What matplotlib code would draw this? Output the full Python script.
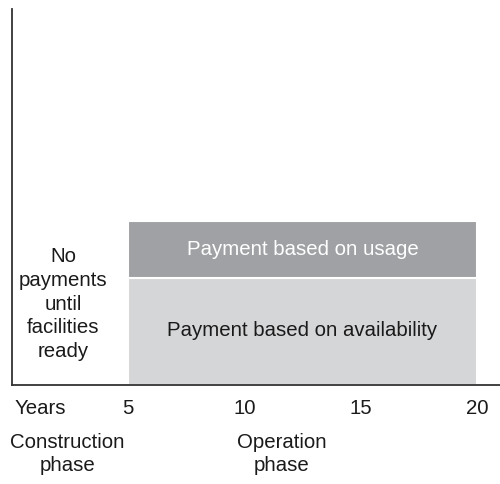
import matplotlib
matplotlib.use("Agg")
import matplotlib.pyplot as plt
from matplotlib.transforms import blended_transform_factory

plt.rcParams['font.family'] = ['Liberation Sans', 'DejaVu Sans']

# Data
start_year = 5
end_year = 20
availability = 2.85
usage = 1.5
tick_years = [5, 10, 15, 20]
tick_labels = ["5", "10", "15", "20"]
phases = ["Construction\nphase", "Operation\nphase"]
phase_x = [2.37, 11.6]

FS = 14.7
W, H = 500, 484
fig = plt.figure(figsize=(W/100, H/100), dpi=100)
ax = fig.add_axes([12/W, (H-385)/H, 488/W, 376/H])
ax.set_xlim(0, 21)
ax.set_ylim(0, 10)

ax.bar([start_year], [availability], width=end_year-start_year, align='edge',
       color='#d5d6d8', edgecolor='white', linewidth=1.5)
ax.bar([start_year], [usage], bottom=[availability], width=end_year-start_year,
       align='edge', color='#a0a1a4', edgecolor='white', linewidth=1.5)

mid = (start_year + end_year) / 2
ax.text(mid, availability + usage/2, "Payment based on usage", ha='center', va='center',
        color='white', fontsize=FS)
ax.text(mid, 1.45, "Payment based on availability", ha='center', va='center',
        color='#1a1a1a', fontsize=FS)
ax.text(2.2, 2.15, "No\npayments\nuntil\nfacilities\nready", ha='center',
        va='center', color='#1a1a1a', fontsize=FS, linespacing=1.32)

for s in ['top', 'right']:
    ax.spines[s].set_visible(False)
ax.spines['left'].set_linewidth(1.3)
ax.spines['bottom'].set_linewidth(1.3)
ax.spines['left'].set_color('#333333')
ax.spines['bottom'].set_color('#333333')
ax.set_yticks([])
ax.set_xticks(tick_years)
ax.set_xticklabels(tick_labels, fontsize=FS, color='#1a1a1a')
ax.tick_params(axis='x', length=0, pad=10)

trans = blended_transform_factory(ax.transData, ax.transAxes)
ax.text(1.2, -24/376, "Years", transform=trans, ha='center', va='center',
        fontsize=FS, color='#1a1a1a')
for x, lbl in zip(phase_x, phases):
    ax.text(x, -69/376, lbl, transform=trans, ha='center', va='center',
            fontsize=FS, color='#1a1a1a', linespacing=1.32)

fig.savefig("out.png", dpi=100)
